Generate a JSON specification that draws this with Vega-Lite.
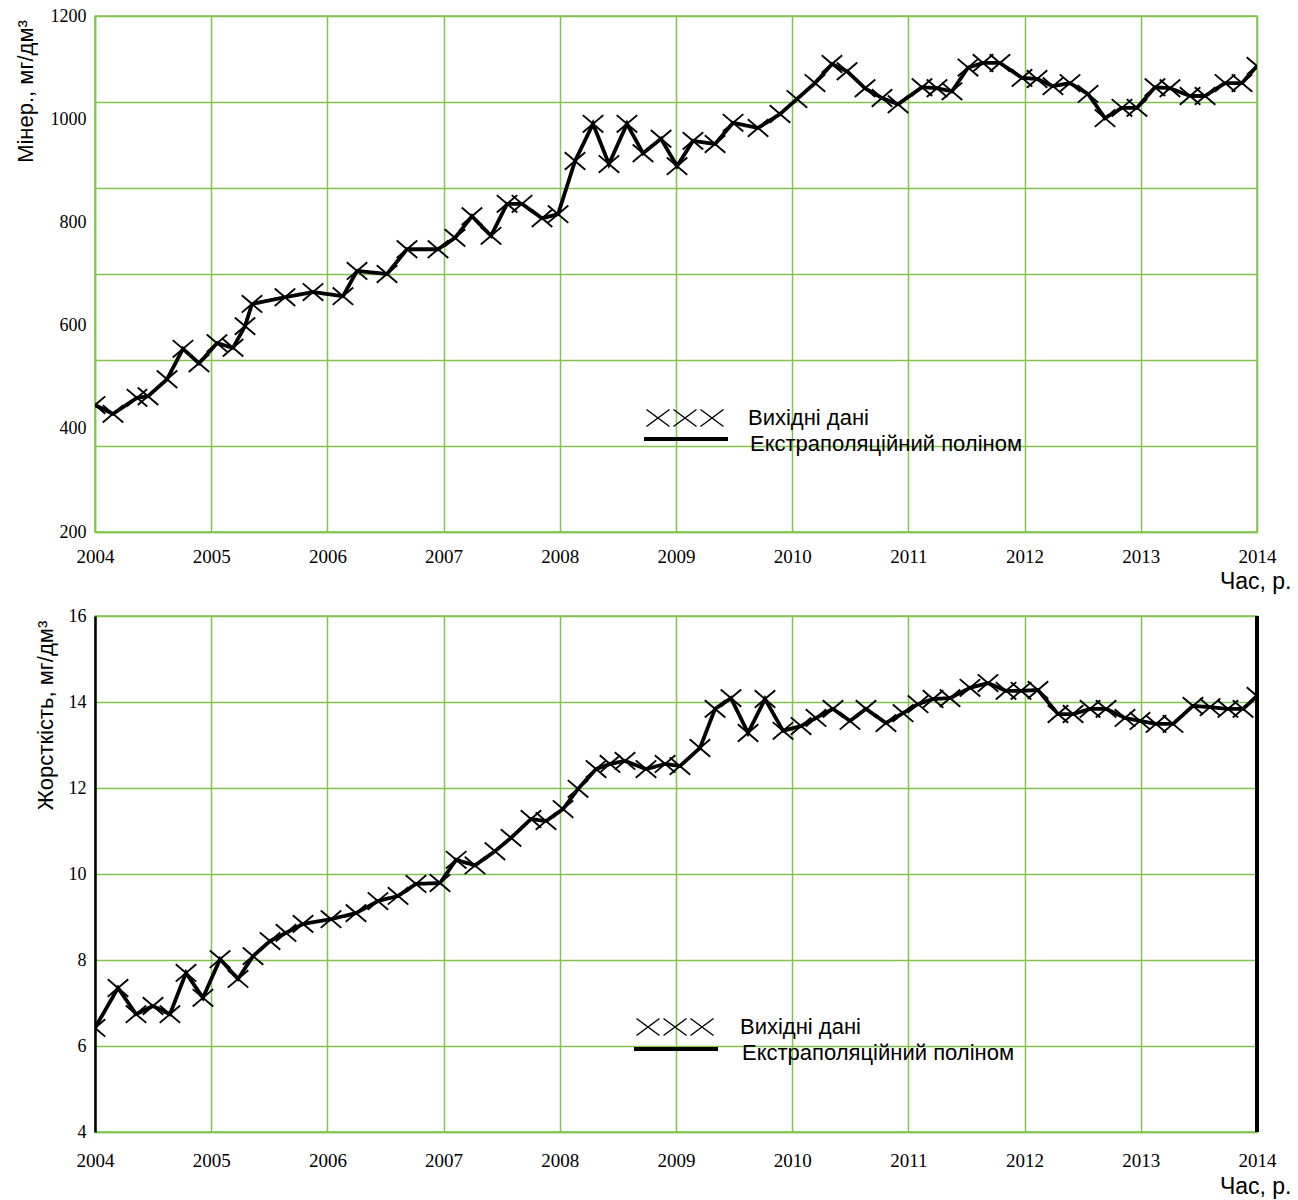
{
  "$schema": "https://vega.github.io/schema/vega-lite/v6.json",
  "padding": {"left": 13, "top": 6, "right": 5, "bottom": 5},
  "background": "white",
  "spacing": 84,
  "bounds": "flush",
  "resolve": {
    "scale": {"color": "independent", "strokeDash": "independent"},
    "legend": {"color": "independent", "strokeDash": "independent"}
  },
  "config": {
    "view": {"stroke": "#82c350", "strokeWidth": 1.5},
    "axis": {
      "gridColor": "#82c350", "gridWidth": 1.5, "gridOpacity": 1,
      "domainColor": "#82c350", "domainWidth": 1.5,
      "ticks": false, "tickSize": 0, "labelFlush": false,
      "labelFont": "Liberation Serif", "labelFontSize": 18, "labelColor": "black",
      "titleFont": "Liberation Sans", "titleFontSize": 22, "titleFontWeight": "normal", "titleColor": "black"
    },
    "legend": {
      "labelFont": "Liberation Sans", "labelFontSize": 22, "labelColor": "black",
      "labelLimit": 0, "padding": 0, "title": null
    }
  },
  "datasets": {
    "miner": [
      {"t": 2004.000, "v": 446}, {"t": 2004.155, "v": 429}, {"t": 2004.361, "v": 460}, {"t": 2004.456, "v": 463},
      {"t": 2004.620, "v": 496}, {"t": 2004.757, "v": 555}, {"t": 2004.895, "v": 527}, {"t": 2005.050, "v": 566},
      {"t": 2005.188, "v": 557}, {"t": 2005.291, "v": 599}, {"t": 2005.351, "v": 642}, {"t": 2005.635, "v": 655},
      {"t": 2005.876, "v": 665}, {"t": 2006.134, "v": 657}, {"t": 2006.255, "v": 706}, {"t": 2006.513, "v": 700},
      {"t": 2006.685, "v": 748}, {"t": 2006.952, "v": 748}, {"t": 2007.098, "v": 770}, {"t": 2007.244, "v": 812},
      {"t": 2007.408, "v": 774}, {"t": 2007.546, "v": 836}, {"t": 2007.675, "v": 836}, {"t": 2007.847, "v": 808},
      {"t": 2007.985, "v": 816}, {"t": 2008.131, "v": 919}, {"t": 2008.286, "v": 991}, {"t": 2008.423, "v": 913},
      {"t": 2008.578, "v": 991}, {"t": 2008.716, "v": 934}, {"t": 2008.871, "v": 962}, {"t": 2009.009, "v": 909},
      {"t": 2009.146, "v": 958}, {"t": 2009.336, "v": 952}, {"t": 2009.491, "v": 993}, {"t": 2009.706, "v": 983},
      {"t": 2009.895, "v": 1010}, {"t": 2010.041, "v": 1039}, {"t": 2010.196, "v": 1070}, {"t": 2010.342, "v": 1107},
      {"t": 2010.472, "v": 1093}, {"t": 2010.627, "v": 1060}, {"t": 2010.773, "v": 1041}, {"t": 2010.911, "v": 1029},
      {"t": 2011.117, "v": 1062}, {"t": 2011.246, "v": 1060}, {"t": 2011.375, "v": 1054}, {"t": 2011.513, "v": 1100},
      {"t": 2011.642, "v": 1109}, {"t": 2011.788, "v": 1109}, {"t": 2011.978, "v": 1080}, {"t": 2012.107, "v": 1078},
      {"t": 2012.244, "v": 1064}, {"t": 2012.391, "v": 1070}, {"t": 2012.546, "v": 1049}, {"t": 2012.692, "v": 1002},
      {"t": 2012.838, "v": 1022}, {"t": 2012.967, "v": 1022}, {"t": 2013.122, "v": 1062}, {"t": 2013.251, "v": 1060},
      {"t": 2013.424, "v": 1045}, {"t": 2013.553, "v": 1045}, {"t": 2013.725, "v": 1070}, {"t": 2013.871, "v": 1070},
      {"t": 2014.000, "v": 1103}
    ],
    "hard": [
      {"t": 2004.000, "v": 6.42}, {"t": 2004.198, "v": 7.35}, {"t": 2004.353, "v": 6.74}, {"t": 2004.499, "v": 6.93},
      {"t": 2004.645, "v": 6.74}, {"t": 2004.783, "v": 7.70}, {"t": 2004.929, "v": 7.12}, {"t": 2005.076, "v": 8.02},
      {"t": 2005.231, "v": 7.56}, {"t": 2005.360, "v": 8.09}, {"t": 2005.506, "v": 8.44}, {"t": 2005.644, "v": 8.63},
      {"t": 2005.790, "v": 8.84}, {"t": 2006.031, "v": 8.95}, {"t": 2006.246, "v": 9.09}, {"t": 2006.435, "v": 9.37},
      {"t": 2006.608, "v": 9.49}, {"t": 2006.762, "v": 9.77}, {"t": 2006.969, "v": 9.79}, {"t": 2007.108, "v": 10.33},
      {"t": 2007.270, "v": 10.20}, {"t": 2007.442, "v": 10.53}, {"t": 2007.580, "v": 10.84}, {"t": 2007.752, "v": 11.28},
      {"t": 2007.881, "v": 11.23}, {"t": 2008.028, "v": 11.51}, {"t": 2008.157, "v": 11.98}, {"t": 2008.312, "v": 12.44},
      {"t": 2008.432, "v": 12.56}, {"t": 2008.561, "v": 12.63}, {"t": 2008.742, "v": 12.44}, {"t": 2008.906, "v": 12.56},
      {"t": 2009.034, "v": 12.51}, {"t": 2009.206, "v": 12.93}, {"t": 2009.336, "v": 13.84}, {"t": 2009.473, "v": 14.09},
      {"t": 2009.620, "v": 13.28}, {"t": 2009.766, "v": 14.07}, {"t": 2009.921, "v": 13.33}, {"t": 2010.076, "v": 13.44},
      {"t": 2010.205, "v": 13.63}, {"t": 2010.351, "v": 13.84}, {"t": 2010.497, "v": 13.56}, {"t": 2010.635, "v": 13.84},
      {"t": 2010.807, "v": 13.51}, {"t": 2010.954, "v": 13.74}, {"t": 2011.083, "v": 13.95}, {"t": 2011.212, "v": 14.07},
      {"t": 2011.358, "v": 14.09}, {"t": 2011.530, "v": 14.33}, {"t": 2011.685, "v": 14.44}, {"t": 2011.840, "v": 14.26},
      {"t": 2011.969, "v": 14.26}, {"t": 2012.115, "v": 14.28}, {"t": 2012.287, "v": 13.72}, {"t": 2012.417, "v": 13.72},
      {"t": 2012.563, "v": 13.84}, {"t": 2012.701, "v": 13.84}, {"t": 2012.864, "v": 13.63}, {"t": 2012.993, "v": 13.56},
      {"t": 2013.131, "v": 13.49}, {"t": 2013.277, "v": 13.49}, {"t": 2013.449, "v": 13.91}, {"t": 2013.596, "v": 13.88},
      {"t": 2013.750, "v": 13.84}, {"t": 2013.880, "v": 13.84}, {"t": 2014.000, "v": 14.14}
    ]
  },
  "vconcat": [
    {
      "width": 1162,
      "height": 516,
      "data": {"name": "miner"},
      "layer": [
        {
          "mark": {"type": "line", "color": "black", "strokeWidth": 3.8, "clip": true},
          "encoding": {
            "x": {
              "field": "t", "type": "quantitative",
              "scale": {"domain": [2004, 2014], "nice": false, "zero": false},
              "axis": {
                "values": [2004, 2005, 2006, 2007, 2008, 2009, 2010, 2011, 2012, 2013, 2014],
                "format": "d", "grid": true, "labelPadding": 15, "labelFontSize": 19,
                "title": "Час, р.", "titleX": 1196, "titleY": 56, "titleAlign": "right",
                "titleBaseline": "alphabetic", "titleFontSize": 23
              }
            },
            "y": {
              "field": "v", "type": "quantitative",
              "scale": {"domain": [200, 1200], "nice": false, "zero": false},
              "axis": {
                "orient": "left",
                "values": [200, 366.667, 533.333, 700, 866.667, 1033.333, 1200],
                "grid": true, "labels": false, "domain": true, "title": null
              }
            },
            "strokeDash": {
              "datum": "Екстраполяційний поліном",
              "scale": {"range": [[1, 0]]},
              "legend": {
                "orient": "none", "legendX": 579, "legendY": 411,
                "symbolType": "M-4.2,0L4.2,0", "symbolSize": 400,
                "symbolStrokeWidth": 4, "symbolStrokeColor": "black",
                "labelOffset": 52,
                "encode": {"labels": {"update": {"dy": {"value": 5}}}}
              }
            }
          }
        },
        {
          "mark": {"type": "point", "shape": "M-1,-0.85L1,0.85M-1,0.85L1,-0.85", "filled": false, "strokeWidth": 1.9, "size": 420, "opacity": 1, "clip": true},
          "encoding": {
            "x": {"field": "t", "type": "quantitative"},
            "y": {
              "field": "v", "type": "quantitative",
              "axis": {
                "orient": "left",
                "values": [200, 400, 600, 800, 1000, 1200], "format": "d",
                "grid": false, "domain": false, "labelPadding": 9,
                "title": "Мінер., мг/дм³", "titleAngle": -90, "titleX": -63, "titleY": 75,
                "titleAlign": "center", "titleBaseline": "alphabetic"
              }
            },
            "color": {
              "datum": "Вихідні дані",
              "scale": {"range": ["black"]},
              "legend": {
                "orient": "none", "legendX": 579, "legendY": 391,
                "symbolType": "M-3.85,-0.85L-1.55,0.85M-3.85,0.85L-1.55,-0.85M-1.15,-0.85L1.15,0.85M-1.15,0.85L1.15,-0.85M1.55,-0.85L3.85,0.85M1.55,0.85L3.85,-0.85",
                "symbolSize": 400, "symbolStrokeWidth": 1.4, "symbolStrokeColor": "black",
                "symbolFillColor": "transparent",
                "labelOffset": 52
              }
            }
          }
        }
      ],
      "resolve": {"axis": {"y": "independent"}}
    },
    {
      "width": 1162,
      "height": 516,
      "data": {"name": "hard"},
      "layer": [
        {
          "mark": {"type": "line", "color": "black", "strokeWidth": 3.8, "clip": true},
          "encoding": {
            "x": {
              "field": "t", "type": "quantitative",
              "scale": {"domain": [2004, 2014], "nice": false, "zero": false},
              "axis": {
                "values": [2004, 2005, 2006, 2007, 2008, 2009, 2010, 2011, 2012, 2013, 2014],
                "format": "d", "grid": true, "labelPadding": 19, "labelFontSize": 19,
                "title": "Час, р.", "titleX": 1196, "titleY": 61, "titleAlign": "right",
                "titleBaseline": "alphabetic", "titleFontSize": 23
              }
            },
            "y": {
              "field": "v", "type": "quantitative",
              "scale": {"domain": [4, 16], "nice": false, "zero": false},
              "axis": {
                "orient": "left",
                "values": [4, 6, 8, 10, 12, 14, 16], "format": "d",
                "grid": true, "domain": true, "domainColor": "black", "domainWidth": 2.5,
                "labelPadding": 9,
                "title": "Жорсткість, мг/дм³", "titleAngle": -90, "titleX": -43, "titleY": 99,
                "titleAlign": "center", "titleBaseline": "alphabetic"
              }
            },
            "strokeDash": {
              "datum": "Екстраполяційний поліном",
              "scale": {"range": [[1, 0]]},
              "legend": {
                "orient": "none", "legendX": 569, "legendY": 421,
                "symbolType": "M-4.2,0L4.2,0", "symbolSize": 400,
                "symbolStrokeWidth": 4, "symbolStrokeColor": "black",
                "labelOffset": 54,
                "encode": {"labels": {"update": {"dy": {"value": 4}}}}
              }
            }
          }
        },
        {
          "mark": {"type": "point", "shape": "M-1,-0.85L1,0.85M-1,0.85L1,-0.85", "filled": false, "strokeWidth": 1.9, "size": 420, "opacity": 1, "clip": true},
          "encoding": {
            "x": {"field": "t", "type": "quantitative"},
            "y": {"field": "v", "type": "quantitative"},
            "color": {
              "datum": "Вихідні дані",
              "scale": {"range": ["black"]},
              "legend": {
                "orient": "none", "legendX": 569, "legendY": 400,
                "symbolType": "M-3.85,-0.85L-1.55,0.85M-3.85,0.85L-1.55,-0.85M-1.15,-0.85L1.15,0.85M-1.15,0.85L1.15,-0.85M1.55,-0.85L3.85,0.85M1.55,0.85L3.85,-0.85",
                "symbolSize": 400, "symbolStrokeWidth": 1.4, "symbolStrokeColor": "black",
                "symbolFillColor": "transparent",
                "labelOffset": 54
              }
            }
          }
        },
        {
          "mark": {"type": "rule", "color": "black", "strokeWidth": 2.5},
          "encoding": {"x": {"datum": 2014}}
        }
      ]
    }
  ]
}
